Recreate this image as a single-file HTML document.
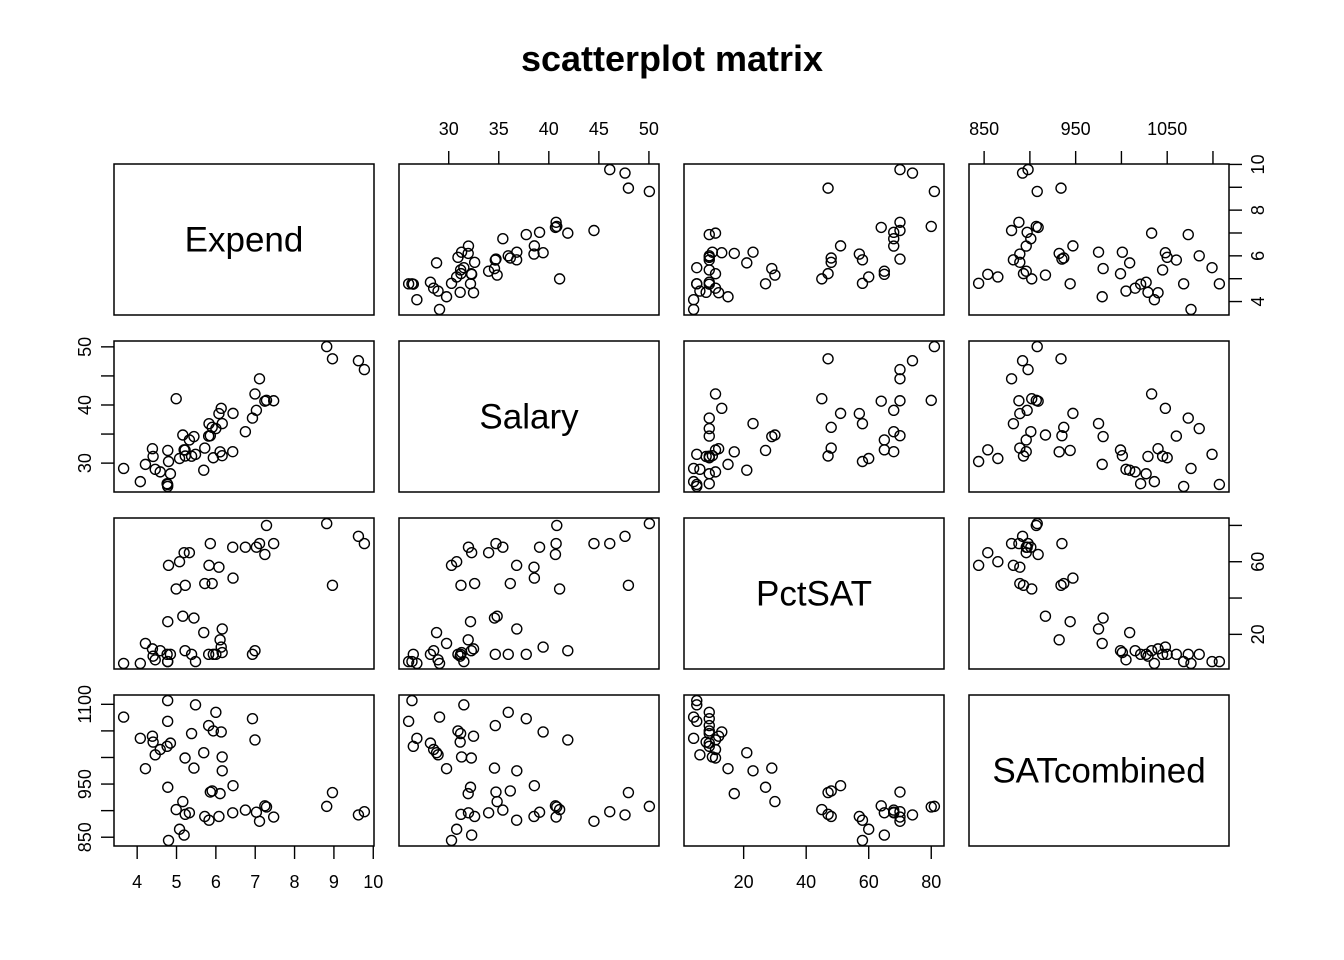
<!DOCTYPE html>
<html><head><meta charset="utf-8"><style>
body{margin:0;background:#fff}
svg{display:block;font-family:"Liberation Sans",Arial,sans-serif}
</style></head><body>
<svg id="c" width="1344" height="960">
<text x="672" y="71" text-anchor="middle" font-size="36" font-weight="bold">scatterplot matrix</text>
</svg>
<script>
const varNames = ["Expend","Salary","PctSAT","SATcombined"];
const expend = [4.405,8.963,4.778,4.459,4.992,5.443,8.817,7.030,5.718,5.193,6.078,4.210,6.136,5.826,5.483,5.817,5.217,4.761,6.428,7.245,7.287,6.994,6.000,4.080,5.383,5.692,5.935,5.160,5.859,9.774,4.586,9.623,5.077,4.775,6.162,4.845,6.436,7.109,7.469,4.797,4.775,4.388,5.222,3.656,6.750,5.327,5.906,6.107,6.930,6.160];
const salary = [31.144,47.951,32.175,28.934,41.078,34.571,50.045,39.076,32.588,32.291,38.518,29.783,39.431,36.785,31.511,34.652,32.257,26.461,31.972,40.661,40.795,41.895,35.948,26.818,31.189,28.785,30.922,34.836,34.720,46.087,28.493,47.612,30.793,26.327,36.802,28.172,38.555,44.510,40.729,30.279,25.994,32.477,31.223,29.082,35.406,33.987,36.151,31.944,37.746,31.285];
const pctSAT = [8,47,27,6,45,29,81,68,48,65,57,15,13,58,5,9,11,9,68,64,80,11,9,4,9,21,9,30,70,70,11,74,60,5,23,9,51,70,70,58,5,12,47,4,68,65,48,17,9,10];
const satCombined = [1029,934,944,1005,902,980,908,897,889,854,889,979,1048,882,1099,1060,999,1021,896,909,907,1033,1085,1036,1045,1009,1050,917,935,898,1015,892,865,1107,975,1027,947,880,888,844,1068,1040,893,1076,901,896,937,932,1073,1001];
const series = [expend, salary, pctSAT, satCombined];
const ticks = [[4,5,6,7,8,9,10],[30,35,40,45,50],[20,40,60,80],[850,900,950,1000,1050,1100]];
const tickLabels = [["4","5","6","7","8","9","10"],["30","35","40","45","50"],["20","40","60","80"],["850","","950","","1050",""]];
const rightLabels = [["4","","6","","8","","10"],null,["20","","60",""],null];
const leftLabels = [null,["30","","40","","50"],null,["850","","950","","","1100"]];
const svg = document.getElementById('c');
const NS = "http://www.w3.org/2000/svg";
const X0 = 114, Y0 = 164, W = 260, H = 151, SX = 285, SY = 177;
function mk(tag, attrs, parent){const e=document.createElementNS(NS,tag);for(const k in attrs)e.setAttribute(k,attrs[k]);(parent||svg).appendChild(e);return e;}
function range(v){const mn=Math.min(...v),mx=Math.max(...v),p=(mx-mn)*0.04;return [mn-p,mx+p];}
const ranges = series.map(range);
function sx(j,v){const r=ranges[j];return X0+j*SX+(v-r[0])/(r[1]-r[0])*W;}
function sy(i,v){const r=ranges[i];return Y0+i*SY+H-(v-r[0])/(r[1]-r[0])*H;}
for(let i=0;i<4;i++){for(let j=0;j<4;j++){
  const g=mk('g',{});
  
  
  const b=mk('rect',{x:X0+j*SX,y:Y0+i*SY,width:W,height:H,fill:'none',stroke:'#000','stroke-width':1.5},g);
  
  
  if(i===j){
    const t=mk('text',{x:X0+j*SX+W/2,y:Y0+i*SY+H/2+12,'text-anchor':'middle','font-size':35},g);
    t.textContent=varNames[i];
    
    
  } else {
    for(let k=0;k<series[0].length;k++){
      const c=mk('circle',{cx:sx(j,series[j][k]),cy:sy(i,series[i][k]),r:5,fill:'none',stroke:'#000','stroke-width':1.4},g);
      
      
    }
  }
}}
function xAxis(j, top){
  const yb = top ? Y0 : Y0+3*SY+H;
  ticks[j].forEach((t,k)=>{
    const x=sx(j,t);
    const l=mk('line',{x1:x,x2:x,y1:yb,y2:top?yb-13:yb+13,stroke:'#000','stroke-width':1.4});
    
    
    if(tickLabels[j][k]){
      const tx=mk('text',{x:x,y:top?Y0-29:yb+42,'text-anchor':'middle','font-size':18});
      tx.textContent=tickLabels[j][k];
      
      
    }
  });
}
function yAxis(i, right, labels){
  const xb = right ? X0+3*SX+W : X0;
  ticks[i].forEach((t,k)=>{
    const y=sy(i,t);
    const l=mk('line',{x1:xb,x2:right?xb+13:xb-13,y1:y,y2:y,stroke:'#000','stroke-width':1.4});
    
    
    if(labels[k]){
      const lx = right ? xb+29 : xb-29;
      const tx=mk('text',{x:lx,y:y,'text-anchor':'middle','font-size':18,transform:'rotate(-90 '+lx+' '+y+')',dy:'6'});
      tx.textContent=labels[k];
      
      
    }
  });
}
xAxis(1,true); xAxis(3,true);
xAxis(0,false); xAxis(2,false);
yAxis(0,true,rightLabels[0]); yAxis(2,true,rightLabels[2]);
yAxis(1,false,leftLabels[1]); yAxis(3,false,leftLabels[3]);
</script>
</body></html>
